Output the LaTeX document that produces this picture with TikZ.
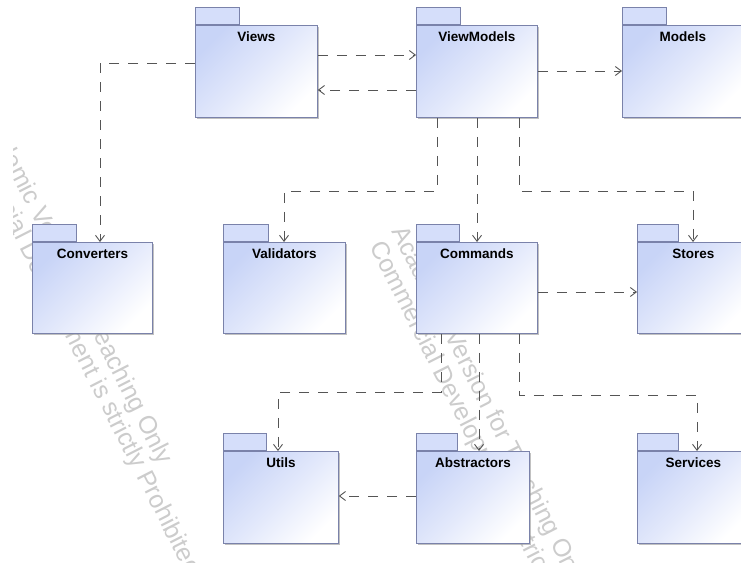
\documentclass[tikz,border=0pt]{standalone}
\usepackage{fontspec}
\setmainfont{Liberation Sans}
\usetikzlibrary{arrows.meta,shadows}
\definecolor{pkgtop}{RGB}{200,212,247}
\definecolor{pkgmid}{RGB}{226,232,251}
\definecolor{pkgtabc}{RGB}{213,222,250}
\definecolor{pkgborder}{RGB}{122,130,170}
\definecolor{depgray}{RGB}{85,85,85}
\definecolor{wmgray}{RGB}{204,204,204}
\tikzset{
  pkgbody/.style={draw=pkgborder, line width=0.8pt, top color=pkgtop, bottom color=white, middle color=pkgmid, shading angle=45,
    drop shadow={shadow xshift=2pt, shadow yshift=-2pt, fill=black!40, opacity=0.6},
    inner sep=0pt, anchor=north west},
  pkgtab/.style={draw=pkgborder, fill=pkgtabc, line width=0.8pt, inner sep=0pt, anchor=south west, minimum height=17pt},
  pkglabel/.style={font=\bfseries\fontsize{13.5}{15}\selectfont, anchor=base, inner sep=0pt},
  dep/.style={draw=depgray, line width=0.9pt, dash pattern=on 10pt off 9pt, -{Straight Barb[length=6pt,width=9pt]}},
  wm/.style={font=\fontsize{25}{28}\selectfont, text=wmgray, rotate=-63, anchor=base west, inner sep=0pt},
}
\newcommand{\pkgdraw}[7]{%
  % #1 name, #2 x, #3 y(top of body), #4 width, #5 height, #6 tab width, #7 label
  \node[pkgtab, minimum width=#6pt] (#1tab) at (#2,#3) {};
  \node[pkgbody, minimum width=#4pt, minimum height=#5pt] (#1) at (#2,#3) {};
  \node[pkglabel] (#1lbl) at ([yshift=-16pt]#1.north) {#7};
}
\begin{document}
\begin{tikzpicture}[x=1pt,y=-1pt]
\useasboundingbox (0,0) rectangle (741,562);
\clip (0,0) rectangle (741,562);
\fill[white] (0,0) rectangle (741,562);
% watermark
\begin{scope}
\clip (13,0) rectangle (741,562);
\node[wm] (wmla) at (-23,108) {Academic Version for Teaching Only};
\node[wm] (wmlb) at (-44,122) {Commercial Development is strictly Prohibited};
\node[wm] (wmra) at (391,231) {Academic Version for Teaching Only};
\node[wm] (wmrb) at (369,246) {Commercial Development is strictly Prohibited};
\end{scope}
% packages
\pkgdraw{views}{195}{25}{122}{92}{44}{Views}
\pkgdraw{vm}{416}{25}{121}{92}{44}{ViewModels}
\pkgdraw{models}{622}{25}{121}{92}{44}{Models}
\pkgdraw{conv}{32}{242}{120}{91}{44}{Converters}
\pkgdraw{valid}{223}{242}{122}{91}{45}{Validators}
\pkgdraw{cmds}{416}{242}{121}{91}{43}{Commands}
\pkgdraw{stores}{637}{242}{112}{91}{41}{Stores}
\pkgdraw{utils}{223}{451}{115}{92}{43}{Utils}
\pkgdraw{abstr}{416}{451}{113}{92}{41}{Abstractors}
\pkgdraw{services}{637}{451}{112}{92}{41}{Services}
% routing coordinates
\coordinate (c1) at (0,55);
\coordinate (c2) at (0,90);
\coordinate (c3) at (0,71);
\coordinate (c4) at (100,63);
\coordinate (c5) at (437,191);
\coordinate (c6) at (284,191);
\coordinate (x477) at (477,0);
\coordinate (c7) at (519,191);
\coordinate (c8) at (693,191);
\coordinate (c9) at (0,292);
\coordinate (c10) at (441,392);
\coordinate (c11) at (278,392);
\coordinate (x479) at (479,0);
\coordinate (c12) at (519,395);
\coordinate (c13) at (697,395);
\coordinate (c14) at (0,496);
% dependencies
\draw[dep] (views.east |- c1) -- (vm.west |- c1);
\draw[dep] (vm.west |- c2) -- (views.east |- c2);
\draw[dep] (vm.east |- c3) -- (models.west |- c3);
\draw[dep] (views.west |- c4) -- (c4) -- (conv.north -| c4);
\draw[dep] (vm.south -| c5) -- (c5) -- (c6) -- (valid.north -| c6);
\draw[dep] (vm.south -| x477) -- (cmds.north -| x477);
\draw[dep] (vm.south -| c7) -- (c7) -- (c8) -- (stores.north -| c8);
\draw[dep] (cmds.east |- c9) -- (stores.west |- c9);
\draw[dep] (cmds.south -| c10) -- (c10) -- (c11) -- (utils.north -| c11);
\draw[dep] (cmds.south -| x479) -- (abstr.north -| x479);
\draw[dep] (cmds.south -| c12) -- (c12) -- (c13) -- (services.north -| c13);
\draw[dep] (abstr.west |- c14) -- (utils.east |- c14);
\end{tikzpicture}
\end{document}
